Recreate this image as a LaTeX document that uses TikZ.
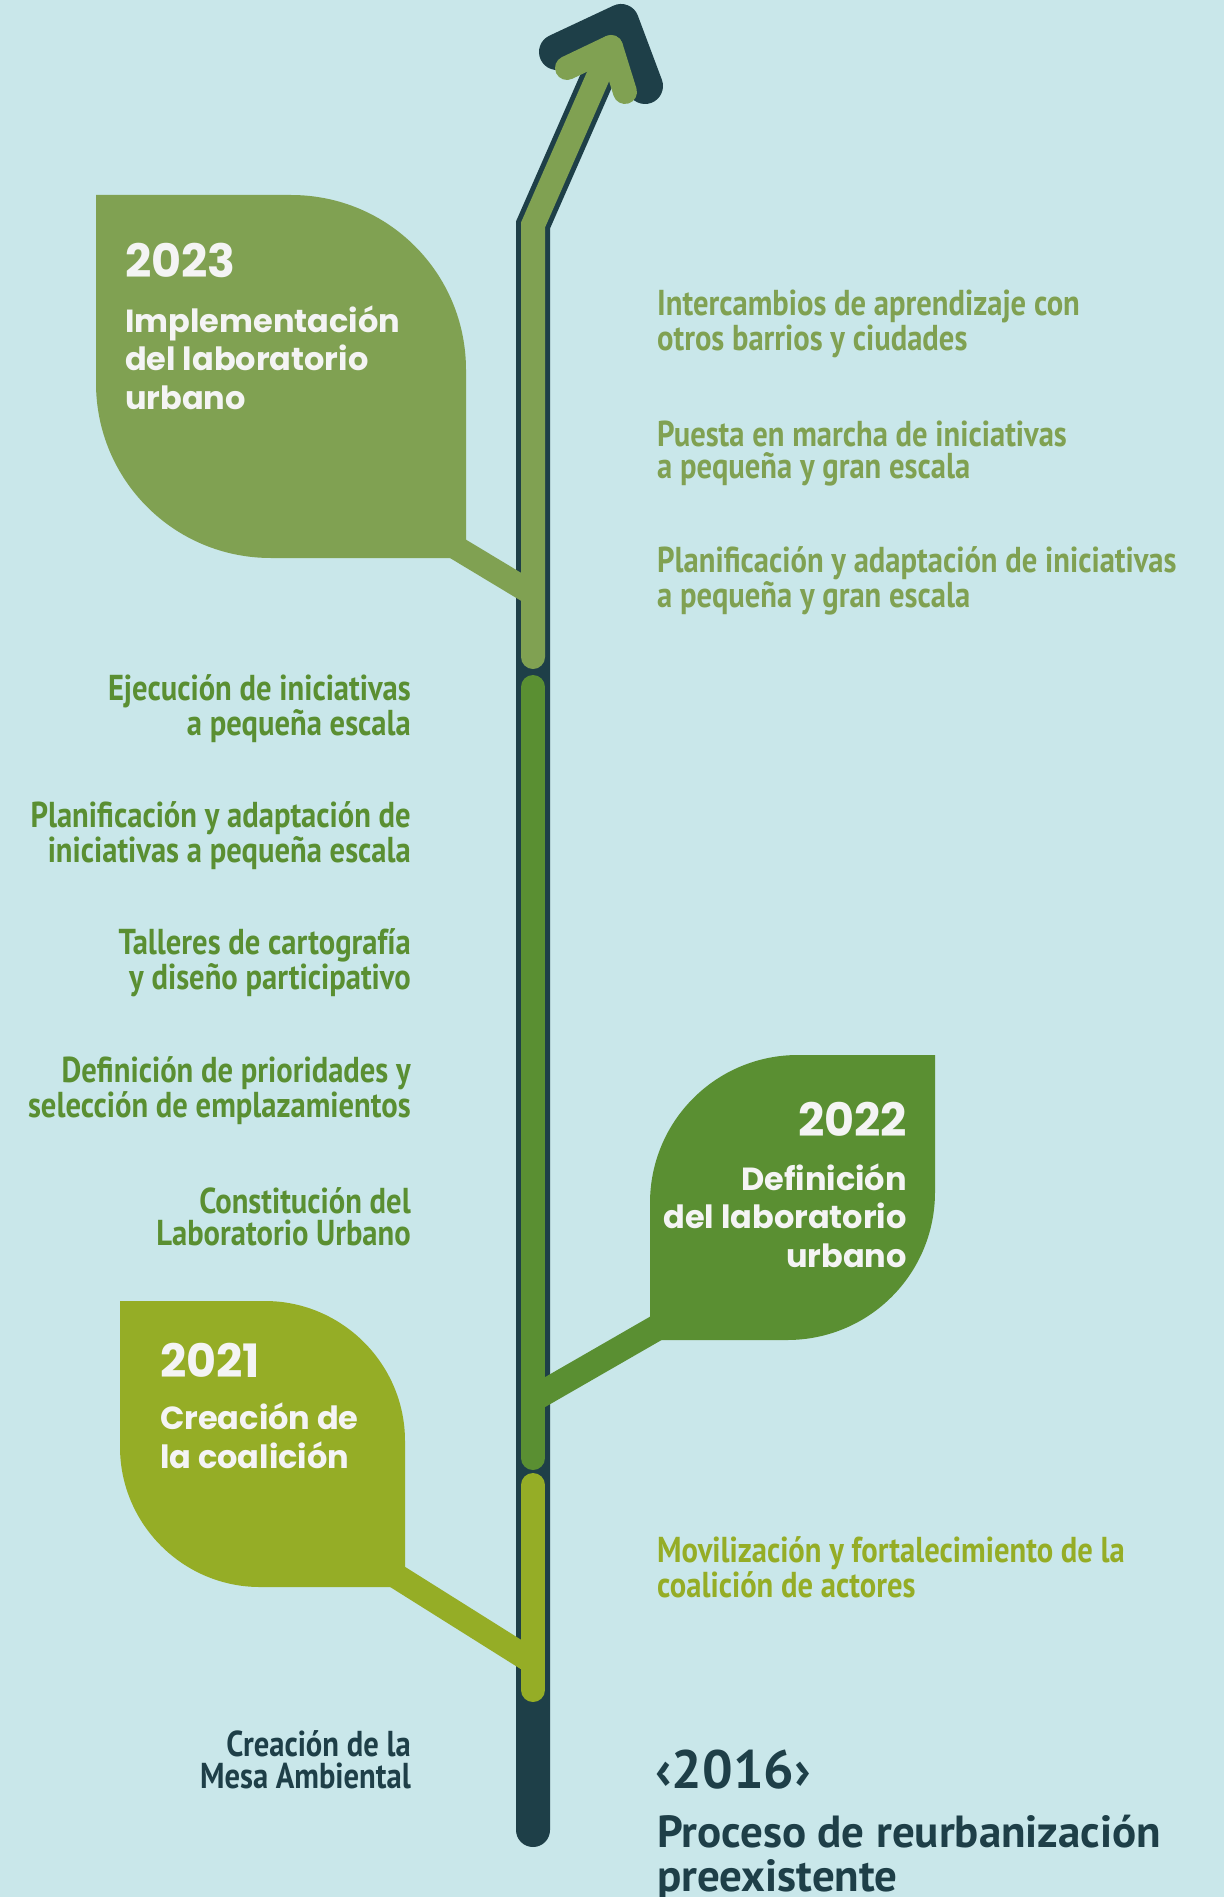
\documentclass[tikz,border=0pt]{standalone}
\usepackage{fontspec}
\usepackage{xcolor}
\usepackage{tikz}
\usetikzlibrary{positioning,calc}
\newfontfamily\popfont{Poppins}
\newfontfamily\narrowfont{PT Sans}[FakeStretch=0.85]
\newfontfamily\widefont{PT Sans}
\definecolor{skyBg}    {HTML}{C9E7EA}
\definecolor{slateDk}  {HTML}{1E3F48}
\definecolor{oliveLf}  {HTML}{80A152}
\definecolor{greenLf}  {HTML}{5A8F32}
\definecolor{limeLf}   {HTML}{95AD26}
\definecolor{paper}    {HTML}{F4F4F4}

\begin{document}
\begin{tikzpicture}[x=1pt,y=-1pt,
  yeartitle/.style={font=\popfont\bfseries\fontsize{46}{50}\selectfont, text=paper, inner sep=0},
  yeartext/.style={font=\popfont\bfseries\fontsize{32}{38.5}\selectfont, text=paper, inner sep=0},
  milestone/.style={font=\narrowfont\bfseries\fontsize{36}{32}\selectfont, inner sep=0},
  twig/.style={line width=25, line cap=butt}]
  \fill[skyBg] (0,0) rectangle (1224,1897);
  \useasboundingbox (0,0) rectangle (1224,1897);
  % stem points
  \coordinate (root) at (533,1830);
  \coordinate (bend) at (533,225);
  \coordinate (tip)  at (611,47);
  \coordinate (j23)  at (533,594);
  \coordinate (j22)  at (533,1399);
  \coordinate (j21)  at (533,1662);
  % dark stem and arrow
  \draw[slateDk, line width=34, line cap=round] (root) -- (bend) -- (tip);
  \draw[slateDk, line width=36, line cap=round, line join=round] (557,52) -- (621,22) -- (645,86);
  % leaves
  \fill[oliveLf] (96,195) -- (291,195) .. controls (388,195) and (466,273) .. (466,370)
    -- (466,558) -- (271,558) .. controls (174,558) and (96,480) .. (96,383) -- cycle;
  \coordinate (s23) at (440,538);
  \draw[oliveLf, twig, line width=24] (s23) -- (j23);
  \fill[greenLf] (935,1055) -- (935,1192) .. controls (935,1274) and (869,1340) .. (787,1340)
    -- (650,1340) -- (650,1203) .. controls (650,1121) and (716,1055) .. (798,1055) -- cycle;
  \coordinate (s22) at (672,1319);
  \draw[greenLf, twig, line width=26] (s22) -- (j22);
  \fill[limeLf] (120,1301) -- (265,1301) .. controls (342,1301) and (405,1364) .. (405,1441)
    -- (405,1587) -- (260,1587) .. controls (183,1587) and (120,1524) .. (120,1447) -- cycle;
  \coordinate (s21) at (385,1569);
  \draw[limeLf, twig] (s21) -- (j21);
  % coloured stem segments
  \draw[oliveLf, line width=24, line cap=round] (533,657) -- (bend) -- (tip);
  \draw[oliveLf, line width=24, line cap=round, line join=round] (567,68) -- (tip) -- (625,92);
  \draw[greenLf, line width=24, line cap=round] (533,687) -- (533,1458);
  \draw[limeLf, line width=24, line cap=round] (533,1485) -- (533,1690);
  % leaf texts (base = last line)
  \node[yeartitle, anchor=base west] (y23) at (125,277) {2023};
  \node[yeartext, anchor=base west, align=left] (d23) at (125,409)
    {Implementación\\del laboratorio\\urbano};
  \node[yeartitle, anchor=base east] (y22) at (907,1136) {2022};
  \node[yeartext, anchor=base east, align=right] (d22) at (907,1267)
    {Definición\\del laboratorio\\urbano};
  \node[yeartitle, anchor=base west] (y21) at (160,1377) {2021};
  \node[yeartext, anchor=base west, align=left] (d21) at (160,1468)
    {Creación de\\la coalición};
  % right column
  \node[milestone, text=oliveLf, anchor=base west, align=left] (r1) at (657,350)
    {Intercambios de aprendizaje con\\otros barrios y ciudades};
  \node[milestone, text=oliveLf, anchor=base west, align=left] (r2) at (657,478)
    {Puesta en marcha de iniciativas\\a pequeña y gran escala};
  \node[milestone, text=oliveLf, anchor=base west, align=left] (r3) at (657,607)
    {Planificación y adaptación de iniciativas\\a pequeña y gran escala};
  \node[milestone, text=limeLf, anchor=base west, align=left] (r4) at (657,1597)
    {Movilización y fortalecimiento de la\\coalición de actores};
  % left column
  \node[milestone, text=greenLf, anchor=base east, align=right] (l1) at (411,735)
    {Ejecución de iniciativas\\a pequeña escala};
  \node[milestone, text=greenLf, anchor=base east, align=right] (l2) at (411,862)
    {Planificación y adaptación de\\iniciativas a pequeña escala};
  \node[milestone, text=greenLf, anchor=base east, align=right] (l3) at (411,989)
    {Talleres de cartografía\\y diseño participativo};
  \node[milestone, text=greenLf, anchor=base east, align=right] (l4) at (411,1117)
    {Definición de prioridades y\\selección de emplazamientos};
  \node[milestone, text=greenLf, anchor=base east, align=right] (l5) at (411,1245)
    {Constitución del\\Laboratorio Urbano};
  \node[milestone, text=slateDk, anchor=base east, align=right] (l6) at (411,1788)
    {Creación de la\\Mesa Ambiental};
  % start
  \node[font=\widefont\bfseries\fontsize{54}{54}\selectfont, text=slateDk, inner sep=0,
    anchor=base west] (y16) at (655,1788) {‹2016›};
  \node[font=\widefont\bfseries\fontsize{45}{44}\selectfont, text=slateDk, inner sep=0,
    anchor=base west, align=left] (d16) at (657,1891)
    {Proceso de reurbanización\\preexistente};
\end{tikzpicture}
\end{document}
